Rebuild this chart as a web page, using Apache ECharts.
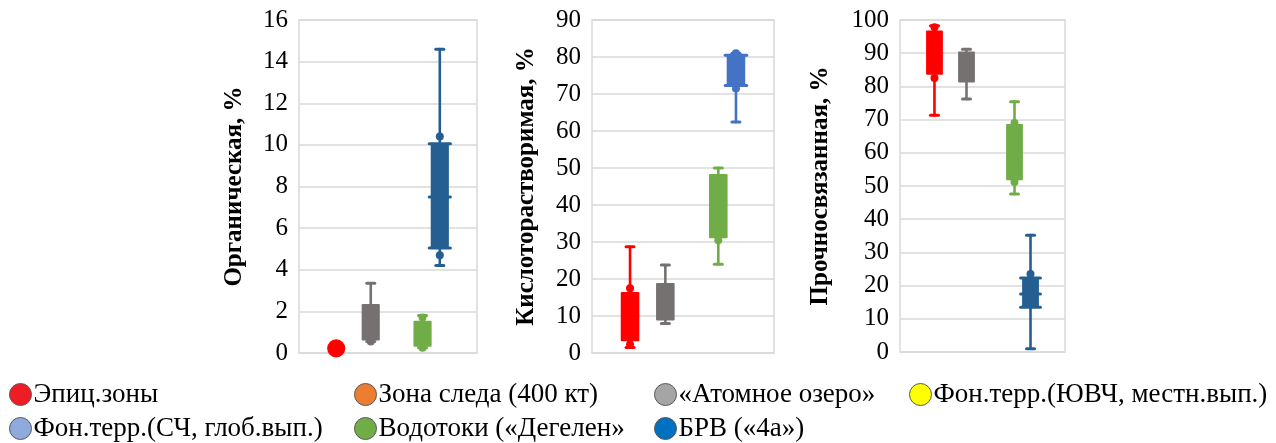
<!DOCTYPE html>
<html>
<head>
<meta charset="utf-8">
<script src="https://cdn.jsdelivr.net/npm/echarts@6/dist/echarts.min.js"></script>
<style>
  html, body { margin: 0; padding: 0; background: #fff; }
  #chart { width: 1276px; height: 443px; }
</style>
</head>
<body>
<div id="chart"></div>
<script>
// Sample groups, in legend order
const groups = [
  'Эпиц.зоны',
  'Зона следа (400 кт)',
  '«Атомное озеро»',
  'Фон.терр.(ЮВЧ, местн.вып.)',
  'Фон.терр.(СЧ, глоб.вып.)',
  'Водотоки («Дегелен»',
  'БРВ («4а»)'
];

// Panel titles and y scales
const panelTitles = ['Органическая, %', 'Кислоторастворимая, %', 'Прочносвязанная, %'];
const yMax = [16, 90, 100];
const yStep = [2, 10, 10];

// Box statistics per group: [min, q1, median, q3, max]; null = group not sampled
const organicBoxes = [
  [0.15, 0.15, null, 0.3, 0.3],
  null,
  [0.55, 0.6, null, 2.35, 3.35],
  null,
  null,
  [0.25, 0.3, null, 1.55, 1.8],
  [4.2, 5.05, 7.5, 10.05, 14.6]
];
const acidBoxes = [
  [1.5, 3.2, null, 16.5, 28.7],
  null,
  [8.0, 8.8, null, 18.9, 23.8],
  null,
  null,
  [24.0, 31.0, null, 48.4, 50.0],
  [62.4, 72.3, null, 80.5, 81.0]
];
const boundBoxes = [
  [71.3, 83.5, null, 96.8, 98.3],
  null,
  [76.2, 81.2, null, 90.5, 91.2],
  null,
  null,
  [47.6, 51.7, null, 68.7, 75.4],
  [1.0, 13.5, 17.5, 22.3, 35.2]
];

// Extra point markers per group
const organicDots = [[], [], [0.55], [], [], [1.7, 0.25], [10.4, 4.7]];
const acidDots = [[17.5, 2.3], [], [], [], [], [30.5], [71.5, 81.0]];
const boundDots = [[82.5, 97.8], [], [], [], [], [69.0, 51.2], [23.5]];

const panelBoxes = [organicBoxes, acidBoxes, boundBoxes];
const panelDots = [organicDots, acidDots, boundDots];

// Styling
const legendColors = ['#EE1C25', '#ED7D31', '#A5A5A5', '#FFFF00', '#8FAADC', '#70AD47', '#0070C0'];
const markColors = [
  ['#FF0000', '#ED7D31', '#767171', '#FFFF00', '#8FAADC', '#70AD47', '#255E91'],
  ['#FF0000', '#ED7D31', '#767171', '#FFFF00', '#8FAADC', '#70AD47', '#4472C4'],
  ['#FF0000', '#ED7D31', '#767171', '#FFFF00', '#8FAADC', '#70AD47', '#255E91']
];
const SERIF = '"Liberation Serif", "Times New Roman", serif';
const SLOT_STEP = 0.097;   // distance between neighbouring group slots, share of band
const BOX_SHARE = 0.102;   // box width, share of band
const gridColor = '#D9D9D9';

const grids = [
  { left: 299, top: 20, width: 178, height: 333 },
  { left: 592, top: 20, width: 182, height: 333 },
  { left: 900, top: 20, width: 165, height: 332 }
];
const nameGaps = [52, 53, 67];

function boxRenderer(p, g) {
  const stats = panelBoxes[p][g];
  const dots = panelDots[p][g];
  const color = markColors[p][g];
  return function (params, api) {
    const base = api.coord([0, 0]);
    const band = api.size([1, 0])[0];
    const x = base[0] + (g - 3) * band * SLOT_STEP;
    const bw = band * BOX_SHARE;
    const y = v => api.coord([0, v])[1];
    const [mn, q1, md, q3, mx] = stats;
    const children = [];
    const line = (x1, y1, x2, y2, w) => ({
      type: 'line',
      shape: { x1, y1, x2, y2 },
      style: { stroke: color, lineWidth: w, lineCap: 'round' }
    });
    // whisker and caps
    children.push(line(x, y(mn), x, y(mx), 2.6));
    children.push(line(x - 4, y(mx), x + 4, y(mx), 3));
    children.push(line(x - 4, y(mn), x + 4, y(mn), 3));
    // box
    const yTop = y(q3), yBot = y(q1);
    const h = yBot - yTop;
    if (h < bw * 0.6) {
      const cy = (yTop + yBot) / 2;
      children.push({ type: 'circle', shape: { cx: x, cy, r: bw / 2 }, style: { fill: color } });
    } else {
      children.push({ type: 'rect', shape: { x: x - bw / 2, y: yTop, width: bw, height: h, r: 1 }, style: { fill: color } });
    }
    if (g === 6) {
      children.push(line(x - bw / 2 - 1.5, yTop, x + bw / 2 + 1.5, yTop, 3));
      children.push(line(x - bw / 2 - 1.5, yBot, x + bw / 2 + 1.5, yBot, 3));
    }
    if (md !== null) {
      children.push(line(x - bw / 2 - 1.5, y(md), x + bw / 2 + 1.5, y(md), 3));
      children.push({ type: 'circle', shape: { cx: x, cy: y(md), r: 3.5 }, style: { fill: color } });
    }
    dots.forEach(d => {
      children.push({ type: 'circle', shape: { cx: x, cy: y(d), r: 4 }, style: { fill: color } });
    });
    return { type: 'group', children };
  };
}

const xAxes = grids.map((_, p) => ({
  type: 'category', gridIndex: p, data: [''],
  axisLine: { show: false }, axisTick: { show: false }, axisLabel: { show: false },
  splitLine: { show: false }
}));

const yAxes = grids.map((_, p) => ({
  type: 'value', gridIndex: p, min: 0, max: yMax[p], interval: yStep[p],
  axisLine: { show: false }, axisTick: { show: false },
  axisLabel: { color: '#000', fontFamily: SERIF, fontSize: 25, margin: 11 },
  splitLine: { lineStyle: { color: gridColor, width: 1.5 } },
  name: panelTitles[p], nameLocation: 'middle', nameRotate: 90, nameGap: nameGaps[p],
  nameTextStyle: { color: '#000', fontFamily: SERIF, fontSize: 25, fontWeight: 'bold' }
}));

const series = [];
grids.forEach((_, p) => {
  groups.forEach((name, g) => {
    const stats = panelBoxes[p][g];
    series.push({
      type: 'custom', name, xAxisIndex: p, yAxisIndex: p,
      itemStyle: { color: legendColors[g] },
      silent: true, animation: false,
      renderItem: stats ? boxRenderer(p, g) : () => null,
      data: stats ? [[0, stats[0], stats[4]]] : [],
      encode: { x: 0, y: [1, 2] }
    });
  });
});

// Legend in four columns of up to two rows
const legendCols = [[0, 4], [1, 5], [2, 6], [3]];
const legendLeft = [9, 354, 654, 909];
const ellipse = 'path://M12,0A12,12,0,1,1,12,24A12,12,0,1,1,12,0Z';
const legends = legendCols.map((col, i) => ({
  orient: 'vertical', left: legendLeft[i], top: 381, itemGap: 7,
  itemWidth: 22, itemHeight: 25, selectedMode: false, padding: 0,
  textStyle: { color: '#000', fontFamily: SERIF, fontSize: 27, padding: [0, 0, 0, -3] },
  data: col.map(g => ({
    name: groups[g], icon: ellipse,
    itemStyle: { color: legendColors[g], borderColor: '#595959', borderWidth: 1 }
  }))
}));

const chart = echarts.init(document.getElementById('chart'), null, { renderer: 'canvas' });
chart.setOption({
  animation: false,
  backgroundColor: '#fff',
  grid: grids.map(g => Object.assign({ show: true, borderColor: gridColor, borderWidth: 1.5, backgroundColor: 'transparent' }, g)),
  xAxis: xAxes,
  yAxis: yAxes,
  legend: legends,
  series
});
</script>
</body>
</html>
